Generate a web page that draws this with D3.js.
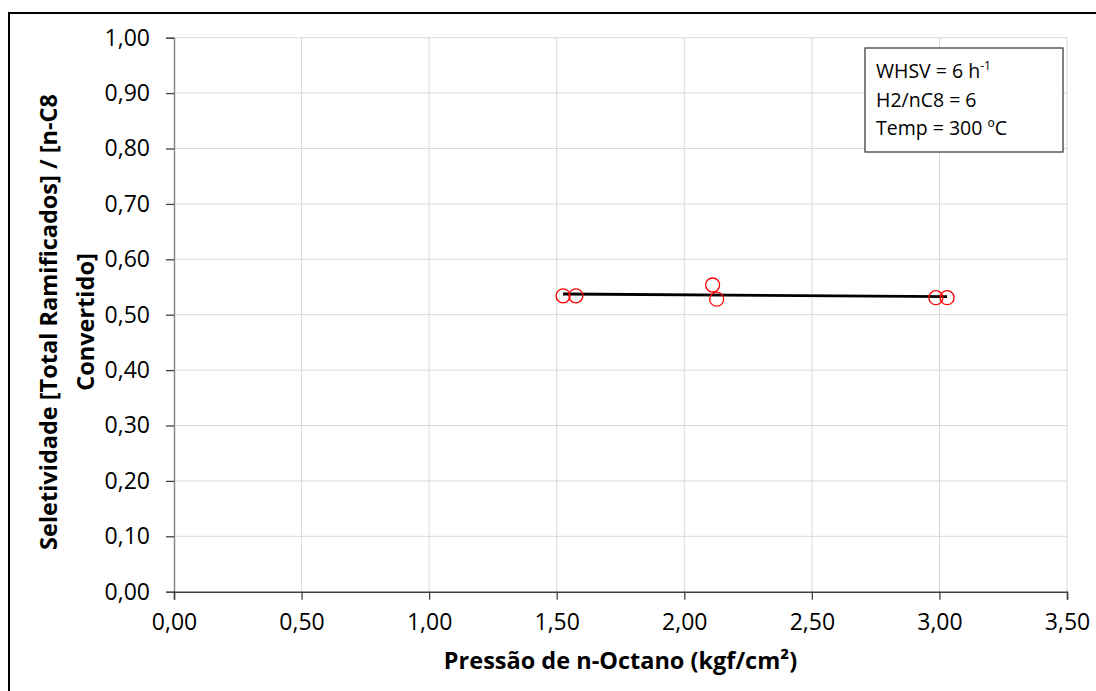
<!DOCTYPE html>
<html>
<head>
<meta charset="utf-8">
<script src="https://cdn.jsdelivr.net/npm/d3@7"></script>
<style>
  body { margin: 0; background: #fff; }
  text { font-family: "Open Sans", sans-serif; fill: #000; }
</style>
</head>
<body>
<div id="chart"></div>
<script>
// data
const pressure = [1.525, 1.575, 2.111, 2.127, 2.986, 3.03];
const selectivity = [0.534, 0.534, 0.5536, 0.528, 0.5307, 0.5307];
const xTicks = [0, 0.5, 1, 1.5, 2, 2.5, 3, 3.5];
const yTicks = [0, 0.1, 0.2, 0.3, 0.4, 0.5, 0.6, 0.7, 0.8, 0.9, 1.0];
const infoLines = ["WHSV = 6 h", "H2/nC8 = 6", "Temp = 300 ºC"];

const width = 1096,
  height = 691;
const margin = { top: 37.7, right: 29, bottom: 99.3, left: 174 };
const innerW = width - margin.left - margin.right,
  innerH = height - margin.top - margin.bottom;

const ptBR = d3.formatLocale({ decimal: ",", thousands: ".", grouping: [3], currency: ["", ""] });
const fmt = ptBR.format(".2f");

const svg = d3
  .select("#chart")
  .append("svg")
  .attr("width", width)
  .attr("height", height);

//outer chart border (runs off the right and bottom edge)
svg
  .append("path")
  .attr("d", "M9,700 V13 H1100")
  .attr("fill", "none")
  .attr("stroke", "#000")
  .attr("stroke-width", 2);

const g = svg.append("g").attr("transform", `translate(${margin.left},${margin.top})`);

const x = d3.scaleLinear().domain([0, 3.5]).range([0, innerW]);
const y = d3.scaleLinear().domain([0, 1]).range([innerH, 0]);

//gridlines
g.append("g")
  .selectAll("line")
  .data(yTicks.slice(1))
  .enter()
  .append("line")
  .attr("x1", 0)
  .attr("x2", innerW)
  .attr("y1", (d) => y(d))
  .attr("y2", (d) => y(d))
  .attr("stroke", "#d9d9d9")
  .attr("stroke-width", 1);

g.append("g")
  .selectAll("line")
  .data(xTicks.slice(1))
  .enter()
  .append("line")
  .attr("x1", (d) => x(d))
  .attr("x2", (d) => x(d))
  .attr("y1", 0)
  .attr("y2", innerH)
  .attr("stroke", "#d9d9d9")
  .attr("stroke-width", 1);

//axes
const yAxis = g
  .append("g")
  .call(d3.axisLeft(y).tickValues(yTicks).tickFormat(fmt).tickSize(8).tickPadding(16));
yAxis.select(".domain").attr("stroke", "#868686").attr("stroke-width", 1.5);
yAxis.selectAll(".tick line").attr("stroke", "#404040").attr("stroke-width", 1.3);
yAxis
  .selectAll(".tick text")
  .style("font-size", "23px")
  .style("font-family", "'Open Sans', sans-serif")
  .attr("fill", "#000");

const xAxis = g
  .append("g")
  .attr("transform", `translate(0,${innerH})`)
  .call(d3.axisBottom(x).tickValues(xTicks).tickFormat(fmt).tickSize(8).tickPadding(14));
xAxis.select(".domain").attr("stroke", "#404040").attr("stroke-width", 1.5);
xAxis.selectAll(".tick line").attr("stroke", "#404040").attr("stroke-width", 1.3);
xAxis
  .selectAll(".tick text")
  .style("font-size", "23px")
  .style("font-family", "'Open Sans', sans-serif")
  .attr("fill", "#000");

//linear trend line (least squares)
const mx = d3.mean(pressure),
  my = d3.mean(selectivity);
const slope =
  d3.sum(pressure, (p, i) => (p - mx) * (selectivity[i] - my)) / d3.sum(pressure, (p) => (p - mx) * (p - mx));
const intercept = my - slope * mx;
const xExt = d3.extent(pressure);

g.append("line")
  .attr("x1", x(xExt[0]))
  .attr("x2", x(xExt[1]))
  .attr("y1", y(intercept + slope * xExt[0]))
  .attr("y2", y(intercept + slope * xExt[1]))
  .attr("stroke", "#000")
  .attr("stroke-width", 2.8);

//markers
g.append("g")
  .selectAll("circle")
  .data(pressure)
  .enter()
  .append("circle")
  .attr("cx", (d) => x(d))
  .attr("cy", (d, i) => y(selectivity[i]))
  .attr("r", 7)
  .attr("fill", "none")
  .attr("stroke", "#ff0000")
  .attr("stroke-width", 1.3);

//axis titles
svg
  .append("text")
  .attr("x", margin.left + innerW / 2)
  .attr("y", 669)
  .attr("text-anchor", "middle")
  .style("font-size", "23.5px")
  .style("font-weight", "bold")
  .text("Pressão de n-Octano (kgf/cm²)");

const yTitle = svg
  .append("text")
  .attr("transform", "translate(57,322) rotate(-90)")
  .attr("text-anchor", "middle")
  .style("font-size", "23.5px")
  .style("font-weight", "bold");
yTitle.append("tspan").attr("x", 0).attr("y", 0).text("Seletividade [Total Ramificados] / [n-C8");
yTitle.append("tspan").attr("x", 0).attr("y", 37).text("Convertido]");

//info box
const box = svg.append("g").attr("transform", "translate(865,48)");
box
  .append("rect")
  .attr("width", 198)
  .attr("height", 104)
  .attr("fill", "#fff")
  .attr("stroke", "#404040")
  .attr("stroke-width", 1.3);

const info = box
  .selectAll("text")
  .data(infoLines)
  .enter()
  .append("text")
  .attr("x", 11)
  .attr("y", (d, i) => 30 + i * 28.5)
  .style("font-size", "19.5px")
  .text((d) => d);
info
  .filter((d, i) => i === 0)
  .append("tspan")
  .attr("dy", -8)
  .style("font-size", "12px")
  .text("-1");
</script>
</body>
</html>
